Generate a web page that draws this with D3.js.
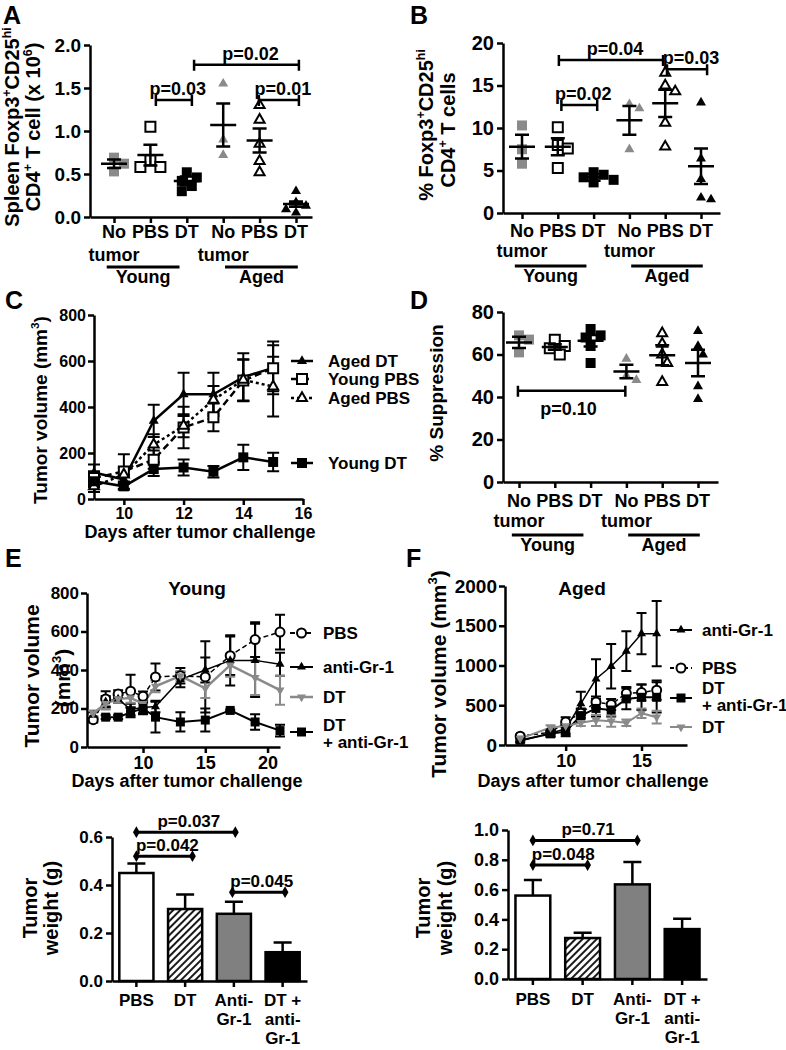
<!DOCTYPE html>
<html><head><meta charset="utf-8">
<script src="https://cdn.jsdelivr.net/npm/d3@7"></script>
<style>body{margin:0;background:#fff}svg{display:block}</style>
</head><body><script>
// ---------------- DATA ----------------
const scatterCats = ["No tumor","PBS","DT","No tumor","PBS","DT"];
const groupNames = ["Young","Aged"];

const aValues = [[0.69,0.62,0.53],[1.05,0.66,0.58,0.58],[0.52,0.46,0.42,0.36,0.30],[1.55,0.90,0.72],[1.30,1.13,0.85,0.65,0.52],[0.30,0.17,0.13,0.09,0.05]];
const aMean = [0.62,0.72,0.42,1.07,0.89,0.15];
const aSem = [0.05,0.12,0.05,0.25,0.14,0.03];
const aTicks = [0,0.5,1.0,1.5,2.0];
const aBrackets = [{from:1.15,to:2.14,value:1.36,label:"p=0.03"},{from:2.2,to:5.08,value:1.77,label:"p=0.02"},{from:3.98,to:5.08,value:1.36,label:"p=0.01"}];

const bValues = [[10.3,7.5,5.8],[10.1,8.0,7.6,5.3],[4.8,4.5,4.2,3.9,3.6],[12.8,12.3,7.5],[16.5,15.0,14.3,10.6,7.8],[13.0,6.4,4.0,1.8,1.6]];
const bMean = [7.8,7.8,4.2,10.9,12.9,5.5];
const bSem = [1.4,1.0,0.4,1.7,1.6,2.1];
const bTicks = [0,5,10,15,20];
const bBrackets = [{from:1.1,to:2.1,value:12.7,label:"p=0.02"},{from:1.03,to:3.94,value:18.0,label:"p=0.04"},{from:4.05,to:5.17,value:16.9,label:"p=0.03"}];

const dValues = [[69,67,61],[67,64,63,60],[72,69,68,64,56],[58,50,48],[70,65,60,56,47],[71,64,60,45,39]];
const dMean = [65.7,63.5,66.5,52,59.6,56];
const dSem = [2.6,1.3,2.7,3.2,4.7,6.2];
const dTicks = [0,20,40,60,80];
const dBrackets = [{from:-0.03,to:2.97,value:43,label:"p=0.10",below:true}];

const cDays = [9,10,11,12,13,14,15];
const cAgedDT = [115,85,340,455,455,530,570];
const cAgedDTErr = [35,20,70,94,94,104,115];
const cYoungPBS = [91,120,171,311,355,515,569];
const cYoungPBSErr = [30,75,40,90,60,90,100];
const cAgedPBS = [55,106,236,318,431,518,489];
const cAgedPBSErr = [25,30,45,50,60,90,130];
const cYoungDT = [77,55,130,137,119,181,161];
const cYoungDTErr = [25,15,30,35,25,55,40];
const cXTicks = [10,12,14,16];
const cYTicks = [0,200,400,600,800];

const eDays = [6,7,8,9,10,11,13,15,17,19,21];
const ePBS = [142,250,275,290,263,364,370,364,474,558,597];
const ePBSErr = [15,40,20,85,25,70,40,185,100,90,90];
const eAnti = [165,235,250,195,205,210,350,400,450,450,430];
const eAntiErr = [15,30,20,30,30,30,40,65,130,190,60];
const eDT = [175,225,250,255,225,315,370,305,425,360,295];
const eDTErr = [15,30,20,25,25,30,25,50,60,90,75];
const eDTAnti = [null,155,155,180,200,155,130,140,190,130,85];
const eDTAntiErr = [null,10,10,25,30,80,50,60,5,40,30];
const eXTicks = [10,15,20];
const eYTicks = [0,200,400,600,800];

const fDays = [7,9,10,11,12,13,14,15,16];
const fAnti = [50,150,200,520,830,990,1180,1400,1400];
const fAntiErr = [20,40,60,150,250,280,250,260,410];
const fPBS = [110,160,290,400,540,510,650,660,690];
const fPBSErr = [20,30,60,60,70,70,80,100,120];
const fDTAnti = [60,140,170,370,460,440,580,600,600];
const fDTAntiErr = [15,40,60,80,100,80,130,160,190];
const fDT = [80,220,240,280,310,300,280,400,350];
const fDTErr = [15,30,40,40,70,70,40,60,80];
const fXTicks = [10,15];
const fYTicks = [0,500,1000,1500,2000];

const barLabelLines = [["PBS"],["DT"],["Anti-","Gr-1"],["DT +","anti-","Gr-1"]];
const eBar = [0.45,0.30,0.28,0.12];
const eBarErr = [0.04,0.06,0.05,0.04];
const eBarTicks = [0,0.2,0.4,0.6];
const eBarBrackets = [{from:0,to:2.03,value:0.62,label:"p=0.037"},{from:0,to:1.15,value:0.52,label:"p=0.042"},{from:1.97,to:3.05,value:0.37,label:"p=0.045"}];
const fBar = [0.56,0.275,0.635,0.335];
const fBarErr = [0.105,0.035,0.15,0.07];
const fBarTicks = [0,0.2,0.4,0.6,0.8,1.0];
const fBarBrackets = [{from:0,to:2.1,value:0.93,label:"p=0.71"},{from:0,to:1.1,value:0.765,label:"p=0.048"}];

// ---------------- DRAWING ----------------
const FONT = "'Liberation Sans', Arial, Helvetica, sans-serif";
const GRAY = "#8a8a8a";
const svg = d3.select("body").append("svg").attr("width",786).attr("height",1050)
  .attr("font-family",FONT).attr("font-weight","bold");
svg.append("rect").attr("width",786).attr("height",1050).attr("fill","#fff");
const defs = svg.append("defs");
const pat = defs.append("pattern").attr("id","hatch").attr("patternUnits","userSpaceOnUse")
  .attr("width",5).attr("height",5).attr("patternTransform","rotate(45)");
pat.append("rect").attr("width",5).attr("height",5).attr("fill","#fff");
pat.append("line").attr("x1",1).attr("y1",0).attr("x2",1).attr("y2",5).attr("stroke","#000").attr("stroke-width",1.8);

function styleAx(ax, fs){
  ax.attr("font-family",FONT).attr("font-size",fs).attr("font-weight","bold");
  ax.select(".domain").attr("stroke","#000").attr("stroke-width",2.5);
  ax.selectAll(".tick line").attr("stroke","#000").attr("stroke-width",2.5);
  ax.selectAll(".tick text").attr("fill","#000");
}
function text(g,x,y,str,fs,anchor){
  return g.append("text").attr("x",x).attr("y",y).attr("font-size",fs)
    .attr("text-anchor",anchor||"middle").attr("fill","#000").text(str);
}
function rich(g,x,y,segs,fs,rot){
  const t = g.append("text").attr("transform",`translate(${x},${y}) rotate(${rot||0})`)
    .attr("text-anchor","middle").attr("font-size",fs).attr("fill","#000");
  let up=false;
  segs.forEach(s=>{
    const ts=t.append("tspan").text(s.t);
    if(s.sup){ ts.attr("font-size",fs*0.62); if(!up){ts.attr("dy",-fs*0.42); up=true;} }
    else if(up){ ts.attr("dy",fs*0.42); up=false; }
  });
  return t;
}
function marker(g,type,x,y,s,fill,stroke,sw){
  let p;
  if(type==="square") p=d3.symbol(d3.symbolSquare,s*s)();
  else if(type==="circle") p=d3.symbol(d3.symbolCircle,Math.PI*s*s/4)();
  else p=d3.symbol(d3.symbolTriangle,Math.sqrt(3)/4*s*s)();
  g.append("path").attr("d",p)
    .attr("transform",`translate(${x},${y})${type==="tridown"?" rotate(180)":""}`)
    .attr("fill",fill).attr("stroke",stroke||"none").attr("stroke-width",sw||0);
}
function panelLetter(x,y,l){ text(svg,x,y,l,25,"start"); }

const scatterStyles = [
  {type:"square",fill:GRAY},{type:"square",fill:"#fff",stroke:"#000",sw:2},{type:"square",fill:"#000"},
  {type:"tri",fill:GRAY},{type:"tri",fill:"#fff",stroke:"#000",sw:2},{type:"tri",fill:"#000"}];

function swarm(vals,y,cx,d){
  const pts = vals.map(v=>({v,py:y(v)})).sort((a,b)=>a.py-b.py);
  const placed=[];
  pts.forEach(p=>{
    const c=[0]; for(let k=1;k<10;k++){c.push(k*d/2,-k*d/2);}
    for(const dx of c){
      if(placed.every(q=>Math.hypot(q.px-(cx+dx),q.py-p.py)>=d*0.95)){p.px=cx+dx;break;}
    }
    placed.push(p);
  });
  return placed;
}

function scatterPanel(o){
  const g=svg.append("g");
  const step=(o.c5-o.c0)/5;
  const x=d3.scaleLinear().domain([-(o.c0-o.ax0)/step,5+(o.ax1-o.c5)/step]).range([o.ax0,o.ax1]);
  const y=d3.scaleLinear().domain(o.yDomain).range([o.yb,o.yt]);
  const ya=g.append("g").attr("transform",`translate(${o.ax0},0)`)
    .call(d3.axisLeft(y).tickValues(o.ticks).tickFormat(o.fmt).tickSize(6).tickSizeOuter(0).tickPadding(3));
  styleAx(ya,o.tfs);
  const xa=g.append("g").attr("transform",`translate(0,${o.yb})`)
    .call(d3.axisBottom(x).tickValues(d3.range(6)).tickFormat(()=>"").tickSize(6).tickSizeOuter(0));
  styleAx(xa,17);
  scatterCats.forEach((c,i)=>{
    c.split(" ").forEach((p,j)=>text(g,x(i),o.yb+o.lab[0]+j*(o.lab[1]-o.lab[0]),p,18));
  });
  [[-0.2,1.8],[3.05,5.05]].forEach((r,k)=>{
    g.append("line").attr("x1",x(r[0])).attr("x2",x(r[1])).attr("y1",o.yb+o.lab[2]).attr("y2",o.yb+o.lab[2])
      .attr("stroke","#000").attr("stroke-width",3);
    text(g,(x(r[0])+x(r[1]))/2,o.yb+o.lab[3],groupNames[k],18);
  });
  o.values.forEach((vals,i)=>{
    const st=scatterStyles[i];
    swarm(vals,y,x(i),10).forEach(p=>marker(g,st.type,p.px,p.py,10,st.fill,st.stroke,st.sw));
  });
  o.mean.forEach((m,i)=>{
    const cx=x(i), ym=y(m), yl=y(m-o.sem[i]), yh=y(m+o.sem[i]);
    g.append("path").attr("d",`M${cx-13},${ym}H${cx+13}M${cx},${yl}V${yh}M${cx-7},${yl}H${cx+7}M${cx-7},${yh}H${cx+7}`)
      .attr("stroke","#000").attr("stroke-width",2.5).attr("fill","none");
  });
  o.brackets.forEach(b=>{
    const x1=x(b.from),x2=x(b.to),yy=y(b.value);
    g.append("path").attr("d",`M${x1},${yy-5}V${yy+6}M${x1},${yy}H${x2}M${x2},${yy-5}V${yy+6}`)
      .attr("stroke","#000").attr("stroke-width",2.5).attr("fill","none");
    text(g,(x1+x2)/2+(b.below?-3:4),b.below?yy+24:yy-5,b.label,18);
  });
  return g;
}

function linePanel(o){
  const g=svg.append("g");
  const x=d3.scaleLinear().domain(o.xDomain).range([o.ax0,o.ax1]);
  const y=d3.scaleLinear().domain(o.yDomain).range([o.yb,o.yt]);
  const ya=g.append("g").attr("transform",`translate(${o.ax0},0)`)
    .call(d3.axisLeft(y).tickValues(o.yTicks).tickFormat(d3.format("d")).tickSize(6).tickSizeOuter(0).tickPadding(2));
  styleAx(ya,o.yfs);
  const xa=g.append("g").attr("transform",`translate(0,${o.yb})`)
    .call(d3.axisBottom(x).tickValues(o.xTicks).tickFormat(d3.format("d")).tickSize(6).tickSizeOuter(0).tickPadding(3));
  styleAx(xa,o.xfs);
  const series=o.series.map(s=>({...s,pts:o.days.map((d,i)=>({d,v:s.vals[i],e:s.errs[i]})).filter(p=>p.v!=null)}));
  const cw=o.cap;
  series.forEach(s=>{
    s.pts.forEach(p=>{
      const px=x(p.d),lo=y(p.v-p.e),hi=y(p.v+p.e);
      g.append("path").attr("d",`M${px},${lo}V${hi}M${px-cw},${hi}H${px+cw}M${px-cw},${lo}H${px+cw}`)
        .attr("stroke",s.color).attr("stroke-width",2).attr("fill","none");
    });
  });
  const line=d3.line().x(p=>x(p.d)).y(p=>y(p.v));
  series.forEach(s=>{
    g.append("path").attr("d",line(s.pts)).attr("fill","none").attr("stroke",s.color)
      .attr("stroke-width",s.lw).attr("stroke-dasharray",s.dash||null);
  });
  series.forEach(s=>{
    s.pts.forEach(p=>marker(g,s.type,x(p.d),y(p.v),o.ms,s.fill,s.stroke,s.sw));
  });
  o.legend.forEach(l=>{
    const s=series[l.i];
    g.append("line").attr("x1",l.x0).attr("x2",l.x1).attr("y1",l.sy).attr("y2",l.sy)
      .attr("stroke",s.color).attr("stroke-width",Math.max(s.lw,2)).attr("stroke-dasharray",s.dash||null);
    marker(g,s.type,(l.x0+l.x1)/2,l.sy,o.ms,s.fill,s.stroke,s.sw);
    l.lines.forEach((t,j)=>text(g,l.tx,l.ty+j*17,t,o.lfs,"start"));
  });
  return g;
}

function barPanel(o){
  const g=svg.append("g");
  const x=d3.scaleBand().domain(d3.range(4)).range([o.ax0,o.ax1]).paddingInner(0.3).paddingOuter(0.15);
  const bw=x.bandwidth();
  const pos=d3.scaleLinear().domain([0,3]).range([x(0)+bw/2,x(3)+bw/2]);
  const y=d3.scaleLinear().domain(o.yDomain).range([o.yb,o.yt]);
  const fills=["#fff","url(#hatch)","#808080","#000"];
  o.vals.forEach((v,i)=>{
    const cx=x(i)+bw/2, top=y(v), eh=y(v+o.errs[i]);
    g.append("path").attr("d",`M${cx},${top}V${eh}M${cx-9},${eh}H${cx+9}`)
      .attr("stroke","#000").attr("stroke-width",2.5).attr("fill","none");
    g.append("rect").attr("x",x(i)).attr("y",top).attr("width",bw).attr("height",o.yb-top)
      .attr("fill",fills[i]).attr("stroke","#000").attr("stroke-width",2.5);
  });
  const ya=g.append("g").attr("transform",`translate(${o.ax0},0)`)
    .call(d3.axisLeft(y).tickValues(o.ticks).tickFormat(d3.format(".1f")).tickSize(6).tickSizeOuter(0).tickPadding(3));
  styleAx(ya,o.tfs);
  const xa=g.append("g").attr("transform",`translate(0,${o.yb})`)
    .call(d3.axisBottom(x).tickFormat(()=>"").tickSize(6).tickSizeOuter(0));
  styleAx(xa,15);
  barLabelLines.forEach((ls,i)=>ls.forEach((t,j)=>text(g,x(i)+bw/2,o.yb+o.lab+j*19,t,17)));
  o.brackets.forEach(b=>{
    const x1=pos(b.from),x2=pos(b.to),yy=y(b.value);
    g.append("line").attr("x1",x1).attr("x2",x2).attr("y1",yy).attr("y2",yy).attr("stroke","#000").attr("stroke-width",3);
    [x1,x2].forEach(xx=>g.append("path").attr("d",d3.symbol(d3.symbolDiamond,40)()).attr("transform",`translate(${xx},${yy})`).attr("fill","#000"));
    text(g,(x1+x2)/2+3,yy-5,b.label,17);
  });
  return g;
}

// ----- Panel A -----
panelLetter(3,24,"A");
scatterPanel({ax0:90,ax1:312,yb:217,yt:45,c0:114,c5:296,yDomain:[0,2],ticks:aTicks,fmt:d3.format(".1f"),tfs:19,
  values:aValues,mean:aMean,sem:aSem,brackets:aBrackets,lab:[21,44,50,66]});
rich(svg,19,127,[{t:"Spleen Foxp3"},{t:"+",sup:1},{t:"CD25"},{t:"hi",sup:1}],20,-90);
rich(svg,40,127,[{t:"CD4"},{t:"+",sup:1},{t:" T cell (x 10"},{t:"6",sup:1},{t:")"}],20,-90);

// ----- Panel B -----
panelLetter(410,24,"B");
scatterPanel({ax0:503,ax1:720,yb:213,yt:43,c0:522,c5:701,yDomain:[0,20],ticks:bTicks,fmt:d3.format("d"),tfs:20,
  values:bValues,mean:bMean,sem:bSem,brackets:bBrackets,lab:[24,44,53,69]});
rich(svg,433,125,[{t:"% Foxp3"},{t:"+",sup:1},{t:"CD25"},{t:"hi",sup:1}],20,-90);
rich(svg,455,130,[{t:"CD4"},{t:"+",sup:1},{t:" T cells"}],20,-90);

// ----- Panel C -----
panelLetter(5,309,"C");
linePanel({ax0:94,ax1:303,yb:499,yt:315,xDomain:[9,16],yDomain:[0,800],xTicks:cXTicks,yTicks:cYTicks,days:cDays,cap:6,ms:10,yfs:16,xfs:16,lfs:17,
  series:[
    {vals:cAgedDT,errs:cAgedDTErr,type:"tri",fill:"#000",color:"#000",lw:2.5},
    {vals:cYoungPBS,errs:cYoungPBSErr,type:"square",fill:"#fff",stroke:"#000",sw:2,color:"#000",lw:2.5,dash:"7,4"},
    {vals:cAgedPBS,errs:cAgedPBSErr,type:"tri",fill:"#fff",stroke:"#000",sw:2,color:"#000",lw:2.5,dash:"3,3"},
    {vals:cYoungDT,errs:cYoungDTErr,type:"square",fill:"#000",color:"#000",lw:2.5}],
  legend:[
    {i:0,x0:291,x1:313,sy:361,tx:328,ty:367,lines:["Aged DT"]},
    {i:1,x0:291,x1:313,sy:379,tx:328,ty:385,lines:["Young PBS"]},
    {i:2,x0:291,x1:313,sy:398,tx:328,ty:404,lines:["Aged PBS"]},
    {i:3,x0:291,x1:313,sy:463,tx:328,ty:469,lines:["Young DT"]}]});
rich(svg,47,410,[{t:"Tumor volume (mm"},{t:"3",sup:1},{t:")"}],19,-90);
text(svg,200,538,"Days after tumor challenge",18);

// ----- Panel D -----
panelLetter(410,309,"D");
scatterPanel({ax0:503,ax1:718,yb:482,yt:312,c0:519,c5:698,yDomain:[0,80],ticks:dTicks,fmt:d3.format("d"),tfs:20,
  values:dValues,mean:dMean,sem:dSem,brackets:dBrackets,lab:[25,45,53,69]});
rich(svg,443,393,[{t:"% Suppression"}],19,-90);

// ----- Panel E (lines) -----
panelLetter(5,567,"E");
linePanel({ax0:87,ax1:280,yb:747,yt:593,xDomain:[5.5,21],yDomain:[0,800],xTicks:eXTicks,yTicks:eYTicks,days:eDays,cap:5,ms:9,yfs:17,xfs:18,lfs:17,
  series:[
    {vals:ePBS,errs:ePBSErr,type:"circle",fill:"#fff",stroke:"#000",sw:2,color:"#000",lw:1.5,dash:"5,3"},
    {vals:eAnti,errs:eAntiErr,type:"tri",fill:"#000",color:"#000",lw:1.5},
    {vals:eDT,errs:eDTErr,type:"tridown",fill:GRAY,color:GRAY,lw:2.5},
    {vals:eDTAnti,errs:eDTAntiErr,type:"square",fill:"#000",color:"#000",lw:2}],
  legend:[
    {i:0,x0:290,x1:313,sy:633,tx:323,ty:639,lines:["PBS"]},
    {i:1,x0:290,x1:313,sy:667,tx:323,ty:673,lines:["anti-Gr-1"]},
    {i:2,x0:290,x1:313,sy:697,tx:323,ty:703,lines:["DT"]},
    {i:3,x0:290,x1:313,sy:732,tx:323,ty:731,lines:["DT","+ anti-Gr-1"]}]});
text(svg,197,595,"Young",19);
rich(svg,39,676,[{t:"Tumor volume"}],21,-90);
rich(svg,70,678,[{t:"(mm"},{t:"3",sup:1},{t:")"}],21,-90);
text(svg,187,787,"Days after tumor challenge",18);

// ----- Panel F (lines) -----
panelLetter(406,567,"F");
linePanel({ax0:505,ax1:687,yb:745,yt:586,xDomain:[6,18],yDomain:[0,2000],xTicks:fXTicks,yTicks:fYTicks,days:fDays,cap:5,ms:9,yfs:19,xfs:18,lfs:17,
  series:[
    {vals:fAnti,errs:fAntiErr,type:"tri",fill:"#000",color:"#000",lw:1.5},
    {vals:fPBS,errs:fPBSErr,type:"circle",fill:"#fff",stroke:"#000",sw:2,color:"#000",lw:1.5,dash:"4,3"},
    {vals:fDTAnti,errs:fDTAntiErr,type:"square",fill:"#000",color:"#000",lw:2},
    {vals:fDT,errs:fDTErr,type:"tridown",fill:GRAY,color:GRAY,lw:2}],
  legend:[
    {i:0,x0:670,x1:692,sy:630,tx:702,ty:636,lines:["anti-Gr-1"]},
    {i:1,x0:670,x1:692,sy:668,tx:702,ty:674,lines:["PBS"]},
    {i:2,x0:670,x1:692,sy:698,tx:702,ty:694,lines:["DT","+ anti-Gr-1"]},
    {i:3,x0:670,x1:692,sy:727,tx:702,ty:733,lines:["DT"]}]});
text(svg,582,595,"Aged",19);
rich(svg,446,674,[{t:"Tumor volume (mm"},{t:"3",sup:1},{t:")"}],21,-90);
text(svg,593,787,"Days after tumor challenge",18);

// ----- Bars -----
barPanel({ax0:112,ax1:307,yb:981,yt:837,yDomain:[0,0.6],ticks:eBarTicks,vals:eBar,errs:eBarErr,brackets:eBarBrackets,lab:25,tfs:17});
rich(svg,37,908,[{t:"Tumor"}],20,-90);
rich(svg,58,908,[{t:"weight (g)"}],20,-90);
barPanel({ax0:508,ax1:707,yb:979,yt:830,yDomain:[0,1],ticks:fBarTicks,vals:fBar,errs:fBarErr,brackets:fBarBrackets,lab:26,tfs:18});
rich(svg,430,908,[{t:"Tumor"}],20,-90);
rich(svg,452,908,[{t:"weight (g)"}],20,-90);
</script></body></html>
